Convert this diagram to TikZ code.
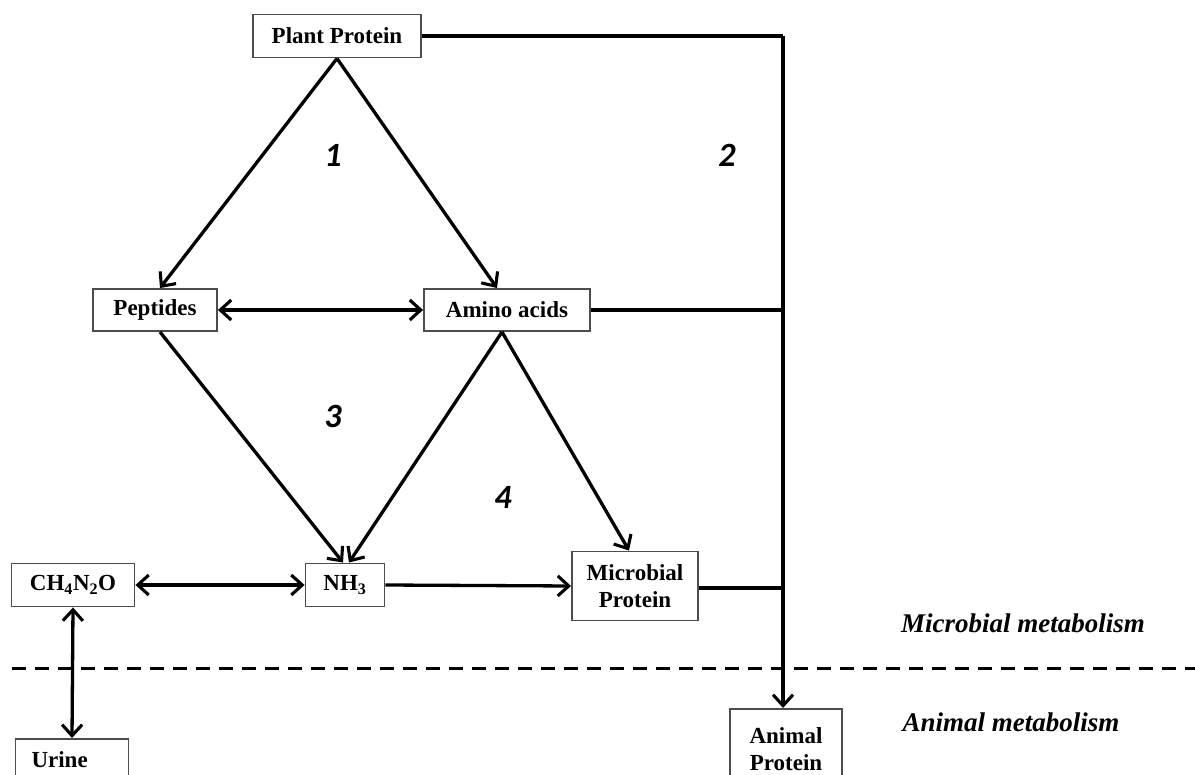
\documentclass[tikz,border=0pt]{standalone}
\usepackage{fontspec}
\setmainfont{Liberation Serif}
\newfontfamily\numfont{Carlito}
\usetikzlibrary{arrows.meta,calc}
\begin{document}
\begin{tikzpicture}[x=1pt,y=-1pt,
  box/.style={draw=black!70,line width=1.9pt,inner sep=0pt,font=\fontsize{23}{27}\selectfont\bfseries,align=center},
  conn/.style={line width=3.3pt},
  arr/.style={conn,-{Straight Barb[length=11pt,width=20pt,line width=3.1pt]}},
  darr/.style={conn,{Straight Barb[length=11pt,width=20pt,line width=3.1pt]}-{Straight Barb[length=11pt,width=20pt,line width=3.1pt]}},
  num/.style={font=\fontsize{34}{36}\selectfont\numfont\bfseries\itshape},
  region/.style={font=\fontsize{27}{30}\selectfont\bfseries\itshape}]
\useasboundingbox (0,0) rectangle (1195,775);
\clip (0,0) rectangle (1195,775);
\node[box,minimum width=168pt,minimum height=43pt] (pp) at (337,36) {Plant Protein};
\node[box,minimum width=124pt,minimum height=42pt] (pep) at (155,310) {Peptides};
\node[box,minimum width=166pt,minimum height=42pt] (aa) at (507,310) {Amino acids};
\node[box,minimum width=123pt,minimum height=43pt] (ch) at (73,585) {CH\textsubscript{4}N\textsubscript{2}O};
\node[box,minimum width=79pt,minimum height=43pt] (nh) at (345,585) {NH\textsubscript{3}};
\node[box,minimum width=126pt,minimum height=69pt] (mp) at (635,586) {Microbial\\Protein};
\node[box,minimum width=113pt,minimum height=80pt,anchor=north,text depth=38pt,text width=81pt,inner xsep=16pt,align=left] (ur) at (72,738) {Urine};
\node[box,minimum width=112pt,minimum height=80pt,anchor=north] (ap) at (786,708) {Animal\\Protein};
\coordinate (j1) at (783,36);
\coordinate (j2) at (783,310);
\coordinate (j3) at (783,588);
\coordinate (dl) at (12,668);
\coordinate (dr) at (1195,668);
\draw[conn] (pp.east) -- (j1);
\draw[arr] (j1) -- (ap.north -| j1);
\draw[conn] (aa.east) -- (j2);
\draw[conn] (mp.east |- j3) -- (j3);
\draw[arr] (pp.south) -- ([xshift=5pt]pep.north);
\draw[arr] (pp.south) -- ([xshift=-10pt]aa.north);
\draw[darr] (pep.east) -- (aa.west);
\draw[arr] ([xshift=5pt]pep.south) -- ([xshift=-2pt]nh.north);
\draw[arr] ([xshift=-5pt]aa.south) -- ([xshift=4pt]nh.north);
\draw[arr] ([xshift=-5pt]aa.south) -- ([xshift=-6pt]mp.north);
\draw[darr] (ch.east) -- (nh.west);
\draw[arr] (nh.east) -- (mp.west);
\draw[darr] (ch.south) -- (ur.north);
\draw[line width=3pt,dash pattern=on 14pt off 9pt] (dl) -- (dr);
\node[num] (n1) at (333,155) {1};
\node[num] (n2) at (727,155) {2};
\node[num] (n3) at (333,416) {3};
\node[num] (n4) at (503,497) {4};
\node[region] (mm) at (1023,623) {Microbial metabolism};
\node[region] (am) at (1011,722) {Animal metabolism};
\end{tikzpicture}
\end{document}
